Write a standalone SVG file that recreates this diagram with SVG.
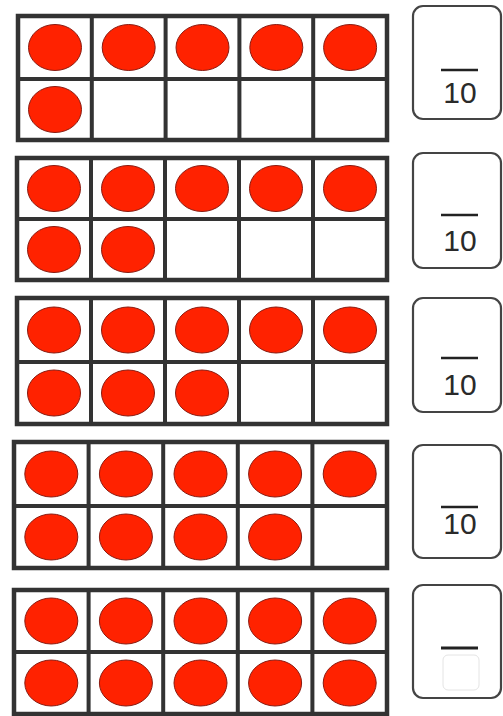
<svg xmlns="http://www.w3.org/2000/svg" width="503" height="716" viewBox="0 0 503 716">
<style>
.frame{fill:#fff;stroke:#333;stroke-width:4.5}
.grid{stroke:#333;stroke-width:4;fill:none}
.dot{fill:#ff2200;stroke:#8a1a10;stroke-width:1}
.box{fill:#fff;stroke:#444;stroke-width:2.2}
.bar{stroke:#222;stroke-width:2.5}
.num{font-family:"Liberation Sans",Arial,sans-serif;font-size:30px;fill:#2a2a2a;text-anchor:middle}
</style>
<rect width="503" height="716" fill="#fff"/>
<g id="frame1">
<rect class="frame" x="18" y="16" width="369" height="124"/>
<path class="grid" d="M18 79H387M91.8 16V140M165.6 16V140M239.4 16V140M313.2 16V140"/>
<ellipse class="dot" cx="55" cy="47.5" rx="26.5" ry="23"/>
<ellipse class="dot" cx="128.7" cy="47.5" rx="26.5" ry="23"/>
<ellipse class="dot" cx="202.5" cy="47.5" rx="26.5" ry="23"/>
<ellipse class="dot" cx="276.3" cy="47.5" rx="26.5" ry="23"/>
<ellipse class="dot" cx="350.1" cy="47.5" rx="26.5" ry="23"/>
<ellipse class="dot" cx="55" cy="109.5" rx="26.5" ry="23"/>
</g>
<g id="frame2">
<rect class="frame" x="17" y="158" width="370" height="122"/>
<path class="grid" d="M17 219H387M91 158V280M165 158V280M239 158V280M313 158V280"/>
<ellipse class="dot" cx="54" cy="188.5" rx="26.5" ry="23"/>
<ellipse class="dot" cx="128" cy="188.5" rx="26.5" ry="23"/>
<ellipse class="dot" cx="202" cy="188.5" rx="26.5" ry="23"/>
<ellipse class="dot" cx="276" cy="188.5" rx="26.5" ry="23"/>
<ellipse class="dot" cx="350" cy="188.5" rx="26.5" ry="23"/>
<ellipse class="dot" cx="54" cy="249.5" rx="26.5" ry="23"/>
<ellipse class="dot" cx="128" cy="249.5" rx="26.5" ry="23"/>
</g>
<g id="frame3">
<rect class="frame" x="17" y="298" width="370" height="126"/>
<path class="grid" d="M17 362H387M91 298V424M165 298V424M239 298V424M313 298V424"/>
<ellipse class="dot" cx="54" cy="330" rx="26.5" ry="23"/>
<ellipse class="dot" cx="128" cy="330" rx="26.5" ry="23"/>
<ellipse class="dot" cx="202" cy="330" rx="26.5" ry="23"/>
<ellipse class="dot" cx="276" cy="330" rx="26.5" ry="23"/>
<ellipse class="dot" cx="350" cy="330" rx="26.5" ry="23"/>
<ellipse class="dot" cx="54" cy="393" rx="26.5" ry="23"/>
<ellipse class="dot" cx="128" cy="393" rx="26.5" ry="23"/>
<ellipse class="dot" cx="202" cy="393" rx="26.5" ry="23"/>
</g>
<g id="frame4">
<rect class="frame" x="14" y="442" width="373" height="126"/>
<path class="grid" d="M14 506H387M88.6 442V568M163.2 442V568M237.8 442V568M312.4 442V568"/>
<ellipse class="dot" cx="51.3" cy="474" rx="26.5" ry="23"/>
<ellipse class="dot" cx="125.9" cy="474" rx="26.5" ry="23"/>
<ellipse class="dot" cx="200.5" cy="474" rx="26.5" ry="23"/>
<ellipse class="dot" cx="275.1" cy="474" rx="26.5" ry="23"/>
<ellipse class="dot" cx="349.7" cy="474" rx="26.5" ry="23"/>
<ellipse class="dot" cx="51.3" cy="537" rx="26.5" ry="23"/>
<ellipse class="dot" cx="125.9" cy="537" rx="26.5" ry="23"/>
<ellipse class="dot" cx="200.5" cy="537" rx="26.5" ry="23"/>
<ellipse class="dot" cx="275.1" cy="537" rx="26.5" ry="23"/>
</g>
<g id="frame5">
<rect class="frame" x="14" y="590" width="373" height="124"/>
<path class="grid" d="M14 652H387M88.6 590V714M163.2 590V714M237.8 590V714M312.4 590V714"/>
<ellipse class="dot" cx="51.3" cy="621" rx="26.5" ry="23"/>
<ellipse class="dot" cx="125.9" cy="621" rx="26.5" ry="23"/>
<ellipse class="dot" cx="200.5" cy="621" rx="26.5" ry="23"/>
<ellipse class="dot" cx="275.1" cy="621" rx="26.5" ry="23"/>
<ellipse class="dot" cx="349.7" cy="621" rx="26.5" ry="23"/>
<ellipse class="dot" cx="51.3" cy="683" rx="26.5" ry="23"/>
<ellipse class="dot" cx="125.9" cy="683" rx="26.5" ry="23"/>
<ellipse class="dot" cx="200.5" cy="683" rx="26.5" ry="23"/>
<ellipse class="dot" cx="275.1" cy="683" rx="26.5" ry="23"/>
<ellipse class="dot" cx="349.7" cy="683" rx="26.5" ry="23"/>
</g>
<g id="box1">
<rect class="box" x="413" y="6" width="88" height="113" rx="10"/>
<line class="bar" x1="441" y1="70" x2="478" y2="70"/>
<text class="num" x="460" y="103">10</text>
</g>
<g id="box2">
<rect class="box" x="413" y="153" width="88" height="115" rx="10"/>
<line class="bar" x1="441" y1="215" x2="478" y2="215"/>
<text class="num" x="460" y="251">10</text>
</g>
<g id="box3">
<rect class="box" x="413" y="298" width="88" height="114" rx="10"/>
<line class="bar" x1="441" y1="358" x2="478" y2="358"/>
<text class="num" x="460" y="395">10</text>
</g>
<g id="box4">
<rect class="box" x="413" y="445" width="88" height="113" rx="10"/>
<line class="bar" x1="441" y1="507" x2="478" y2="507"/>
<text class="num" x="460" y="534">10</text>
</g>
<g id="box5">
<rect class="box" x="413" y="585" width="88" height="113" rx="10"/>
<line x1="441" y1="648" x2="478" y2="648" stroke="#222" stroke-width="3"/>
<rect x="443" y="655" width="36" height="35" rx="5" fill="none" stroke="#e4e4e4" stroke-width="1"/>
</g>
</svg>
